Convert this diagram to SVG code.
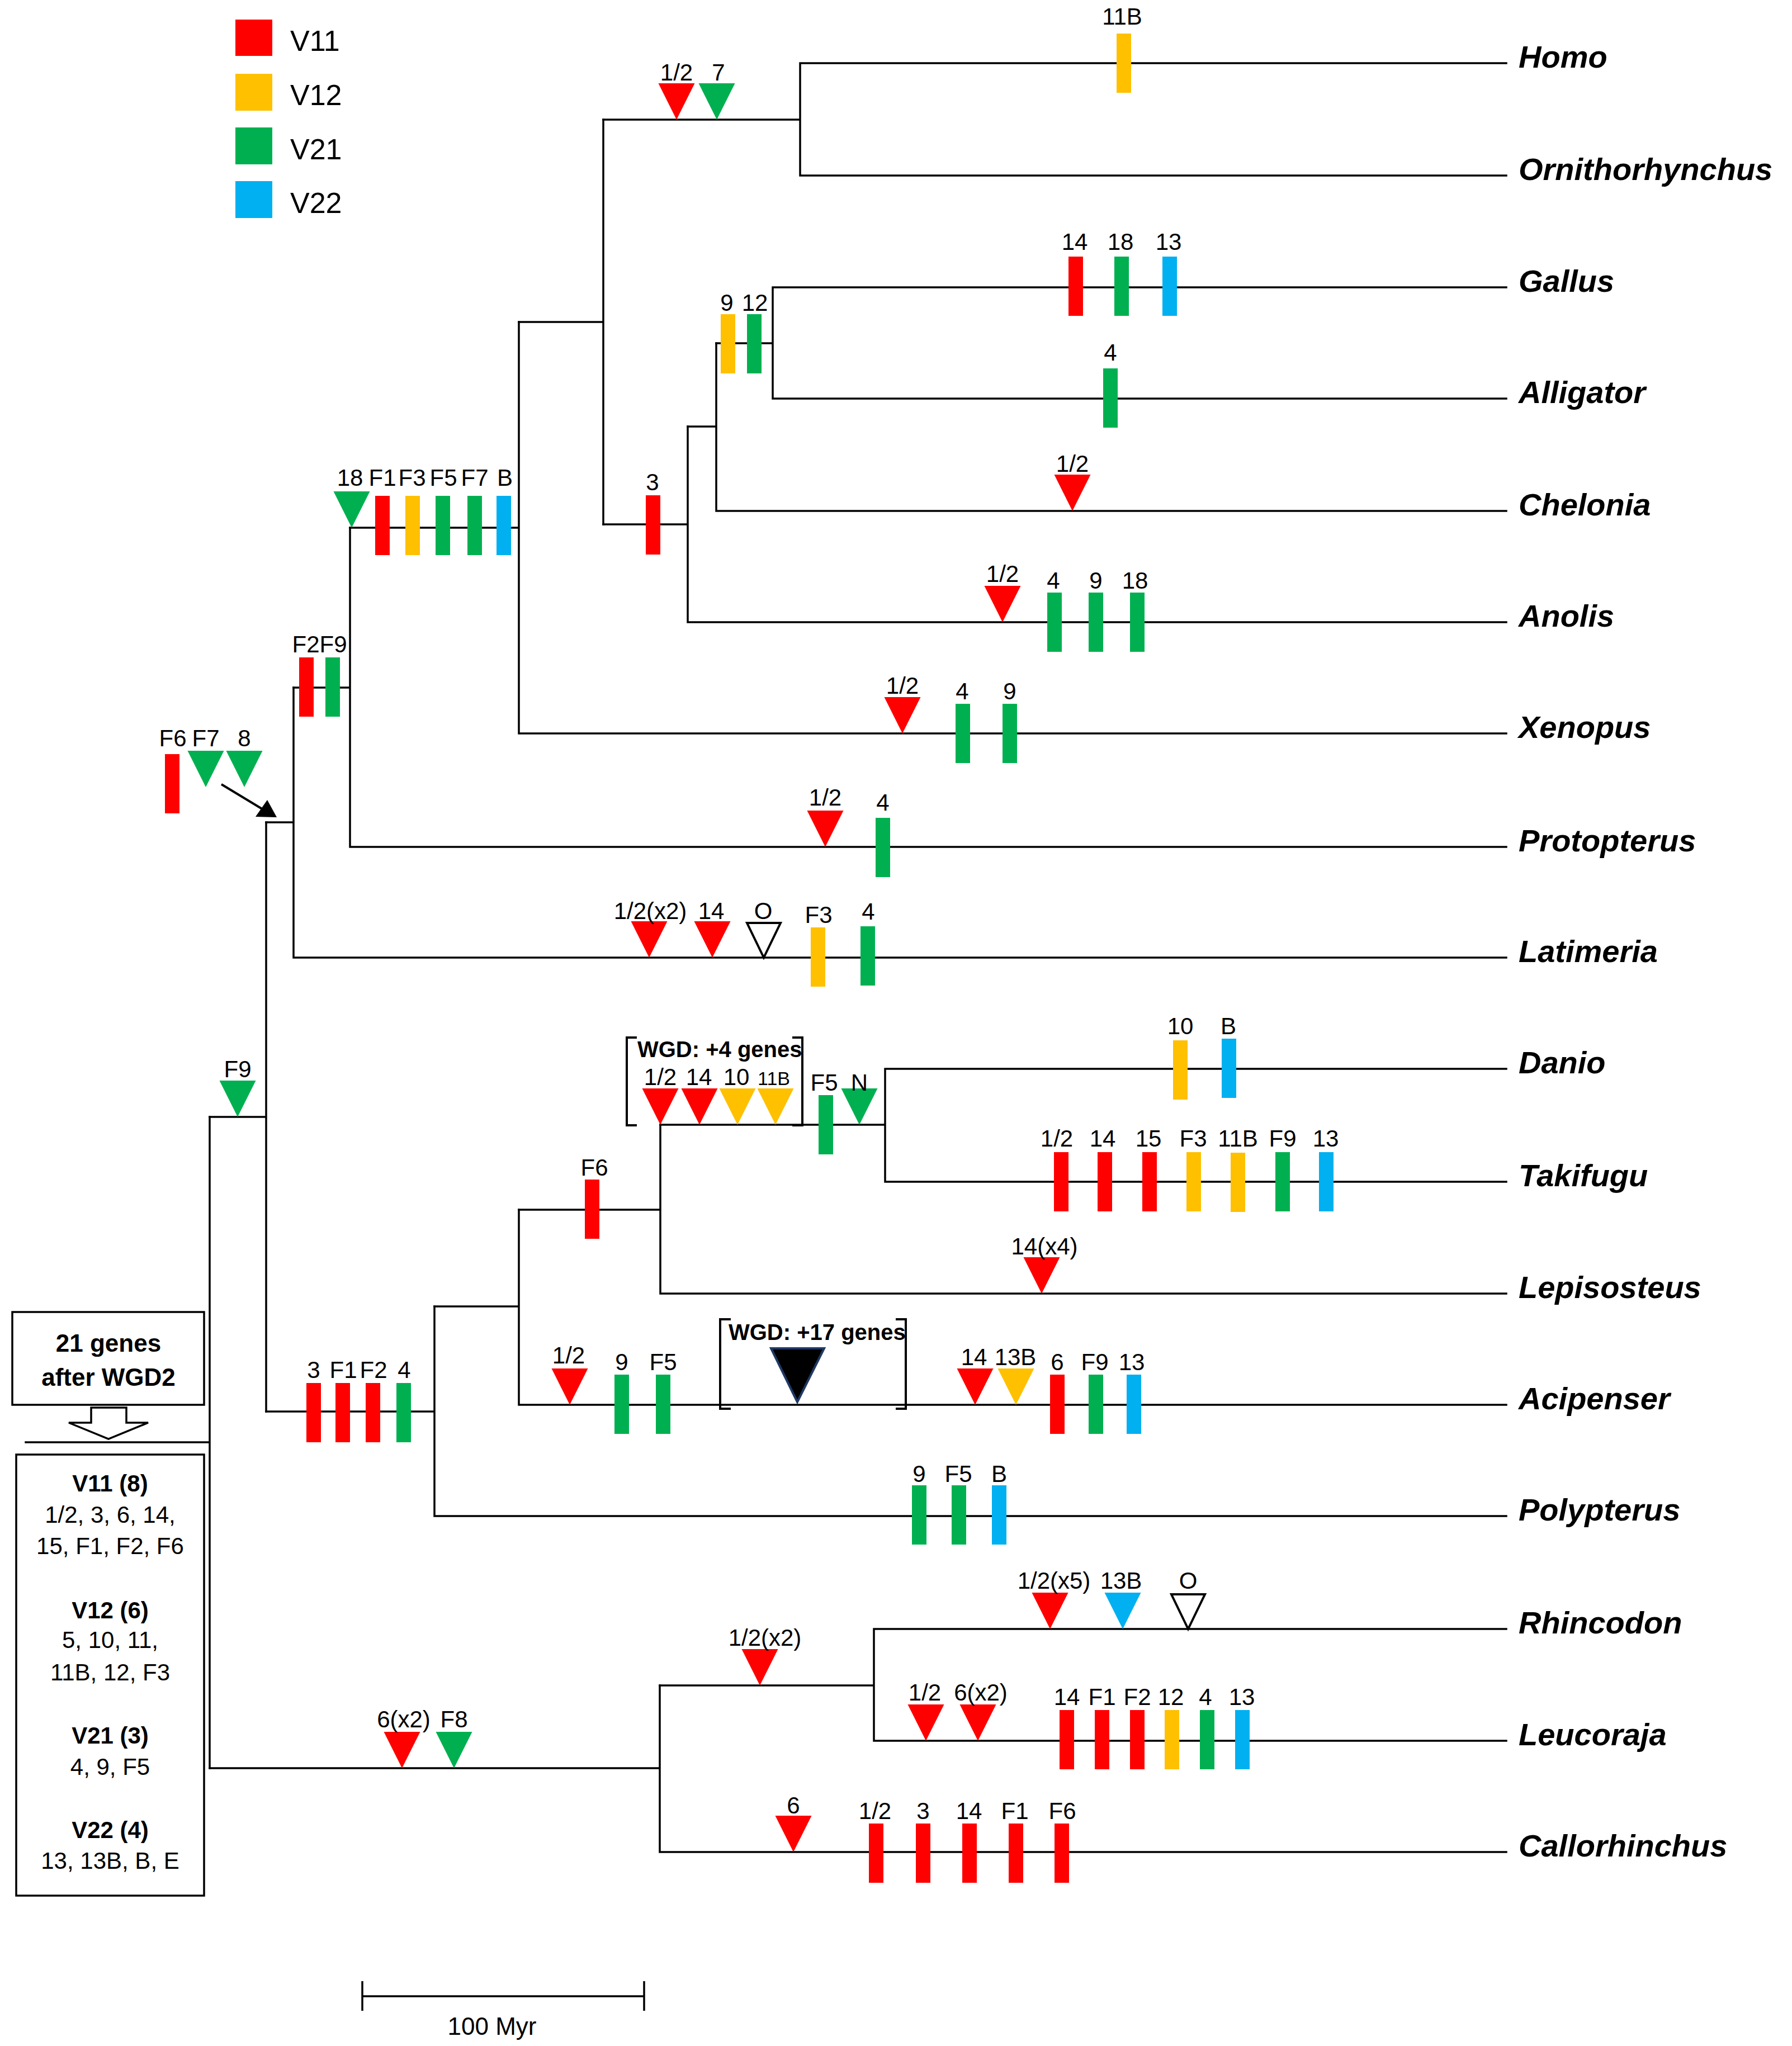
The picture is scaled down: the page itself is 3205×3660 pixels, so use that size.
<svg xmlns="http://www.w3.org/2000/svg" width="3205" height="3660" viewBox="0 0 3205 3660">
<style>
.r{fill:#FF0000}.y{fill:#FFC000}.g{fill:#00B050}.b{fill:#00B0F0}
.ln{stroke:#000;stroke-width:3.5;fill:none;stroke-linecap:square}
.lab{font-family:'Liberation Sans',Arial,sans-serif;font-size:42px;text-anchor:middle;fill:#000}
.sp{font-family:'Liberation Sans',Arial,sans-serif;font-size:56px;font-weight:bold;font-style:italic;fill:#000}
.leg{font-family:'Liberation Sans',Arial,sans-serif;font-size:52px;fill:#000}
.bx{font-family:'Liberation Sans',Arial,sans-serif;font-size:42px;text-anchor:middle;fill:#000}
.bb{font-weight:bold}
.wgd{font-family:'Liberation Sans',Arial,sans-serif;font-size:40px;font-weight:bold;fill:#000}
</style>
<defs>
<path id="tri" d="M-32.5,-65 H32.5 L0,0 Z"/>
<path id="htri" d="M-30,-62 H30 L0,0 Z" fill="#fff" stroke="#000" stroke-width="4" stroke-linejoin="miter"/>
<rect id="bar" x="-13" y="-53" width="26" height="106"/>
</defs>
<rect width="3205" height="3660" fill="#fff"/>

<g id="legend">
<rect x="421" y="35" width="66" height="65" class="r"/>
<rect x="421" y="132" width="66" height="66" class="y"/>
<rect x="421" y="228" width="66" height="66" class="g"/>
<rect x="421" y="324" width="66" height="66" class="b"/>
<text class="leg" x="519" y="91">V11</text>
<text class="leg" x="519" y="188">V12</text>
<text class="leg" x="519" y="285">V21</text>
<text class="leg" x="519" y="381">V22</text>
</g>

<g id="connectors" class="ln">
<path d="M1431,113 H2694 M1431,314 H2694 M1431,113 V314 M1079,214 H1431"/>
<path d="M1382,514 H2694 M1382,713 H2694 M1382,514 V713 M1281,614 H1382"/>
<path d="M1281,914 H2694 M1281,614 V914 M1230,763 H1281"/>
<path d="M1230,1113 H2694 M1230,763 V1113 M1079,938 H1230"/>
<path d="M1079,214 V938 M928,576 H1079"/>
<path d="M928,1312 H2694 M928,576 V1312 M626,944 H928"/>
<path d="M626,1515 H2694 M626,944 V1515 M525,1230 H626"/>
<path d="M525,1713 H2694 M525,1230 V1713 M476,1471 H525"/>
<path d="M1583,1912 H2694 M1583,2114 H2694 M1583,1912 V2114 M1181,2012 H1583"/>
<path d="M1181,2314 H2694 M1181,2012 V2314 M928,2164 H1181"/>
<path d="M928,2513 H2694 M928,2164 V2513 M777,2337 H928"/>
<path d="M777,2712 H2694 M777,2337 V2712 M476,2525 H777"/>
<path d="M476,1471 V2525 M375,1998 H476"/>
<path d="M1563,2914 H2694 M1563,3114 H2694 M1563,2914 V3114 M1180,3015 H1563"/>
<path d="M1180,3313 H2694 M1180,3015 V3313 M375,3163 H1180"/>
<path d="M375,1998 V3163 M46,2580 H375"/>
</g>

<g id="homo">
<use href="#bar" x="2010" y="113" class="y"/>
<text class="lab" x="2007" y="44">11B</text>
<text class="sp" x="2716" y="121">Homo</text>
</g>
<g id="ornithorhynchus"><text class="sp" x="2716" y="322">Ornithorhynchus</text></g>
<g id="mammalia">
<use href="#tri" x="1210" y="214" class="r"/>
<use href="#tri" x="1282" y="214" class="g"/>
<text class="lab" x="1210" y="144">1/2</text>
<text class="lab" x="1285" y="144">7</text>
</g>
<g id="gallus">
<use href="#bar" x="1924" y="512" class="r"/>
<use href="#bar" x="2006" y="512" class="g"/>
<use href="#bar" x="2092" y="512" class="b"/>
<text class="lab" x="1922" y="447">14</text>
<text class="lab" x="2004" y="447">18</text>
<text class="lab" x="2090" y="447">13</text>
<text class="sp" x="2716" y="522">Gallus</text>
</g>
<g id="alligator">
<use href="#bar" x="1986" y="712" class="g"/>
<text class="lab" x="1986" y="645">4</text>
<text class="sp" x="2716" y="721">Alligator</text>
</g>
<g id="archosauria">
<use href="#bar" x="1302" y="615" class="y"/>
<use href="#bar" x="1349" y="615" class="g"/>
<text class="lab" x="1300" y="556">9</text>
<text class="lab" x="1350" y="556">12</text>
</g>
<g id="chelonia">
<use href="#tri" x="1918" y="914" class="r"/>
<text class="lab" x="1918" y="844">1/2</text>
<text class="sp" x="2716" y="922">Chelonia</text>
</g>
<g id="sauropsida">
<use href="#bar" x="1168" y="939" class="r"/>
<text class="lab" x="1167" y="877">3</text>
</g>
<g id="anolis">
<use href="#tri" x="1793" y="1113" class="r"/>
<use href="#bar" x="1886" y="1113" class="g"/>
<use href="#bar" x="1960" y="1113" class="g"/>
<use href="#bar" x="2034" y="1113" class="g"/>
<text class="lab" x="1793" y="1041">1/2</text>
<text class="lab" x="1884" y="1053">4</text>
<text class="lab" x="1960" y="1053">9</text>
<text class="lab" x="2030" y="1053">18</text>
<text class="sp" x="2716" y="1121">Anolis</text>
</g>
<g id="xenopus">
<use href="#tri" x="1614" y="1312" class="r"/>
<use href="#bar" x="1722" y="1312" class="g"/>
<use href="#bar" x="1806" y="1312" class="g"/>
<text class="lab" x="1614" y="1241">1/2</text>
<text class="lab" x="1721" y="1251">4</text>
<text class="lab" x="1806" y="1251">9</text>
<text class="sp" x="2716" y="1320">Xenopus</text>
</g>
<g id="tetrapoda">
<use href="#tri" x="629" y="944" class="g"/>
<use href="#bar" x="684" y="940" class="r"/>
<use href="#bar" x="738" y="940" class="y"/>
<use href="#bar" x="792" y="940" class="g"/>
<use href="#bar" x="849" y="940" class="g"/>
<use href="#bar" x="901" y="940" class="b"/>
<text class="lab" x="626" y="869">18</text>
<text class="lab" x="684" y="869">F1</text>
<text class="lab" x="737" y="869">F3</text>
<text class="lab" x="793" y="869">F5</text>
<text class="lab" x="849" y="869">F7</text>
<text class="lab" x="903" y="869">B</text>
</g>
<g id="protopterus">
<use href="#tri" x="1476" y="1515" class="r"/>
<use href="#bar" x="1579" y="1516" class="g"/>
<text class="lab" x="1476" y="1441">1/2</text>
<text class="lab" x="1579" y="1450">4</text>
<text class="sp" x="2716" y="1523">Protopterus</text>
</g>
<g id="rhipidistia">
<use href="#bar" x="548" y="1229" class="r"/>
<use href="#bar" x="595" y="1229" class="g"/>
<text class="lab" x="547" y="1167">F2</text>
<text class="lab" x="596" y="1167">F9</text>
</g>
<g id="latimeria">
<use href="#tri" x="1161" y="1713" class="r"/>
<use href="#tri" x="1274" y="1713" class="r"/>
<use href="#htri" x="1366" y="1713"/>
<use href="#bar" x="1463" y="1712" class="y"/>
<use href="#bar" x="1552" y="1710" class="g"/>
<text class="lab" x="1163" y="1644">1/2(x2)</text>
<text class="lab" x="1272" y="1644">14</text>
<text class="lab" x="1365" y="1644">O</text>
<text class="lab" x="1464" y="1651">F3</text>
<text class="lab" x="1553" y="1645">4</text>
<text class="sp" x="2716" y="1721">Latimeria</text>
</g>
<g id="sarcopterygii-note">
<use href="#bar" x="308" y="1402" class="r"/>
<use href="#tri" x="368" y="1408" class="g"/>
<use href="#tri" x="437" y="1408" class="g"/>
<text class="lab" x="309" y="1335">F6</text>
<text class="lab" x="368" y="1335">F7</text>
<text class="lab" x="437" y="1335">8</text>
<line x1="396" y1="1403" x2="472" y2="1449" stroke="#000" stroke-width="4"/>
<polygon points="495,1462 457,1461 478,1431" fill="#000"/>
</g>
<g id="osteichthyes">
<use href="#tri" x="425" y="1998" class="g"/>
<text class="lab" x="425" y="1927">F9</text>
</g>
<g id="actinopterygii">
<use href="#bar" x="561" y="2527" class="r"/>
<use href="#bar" x="613" y="2527" class="r"/>
<use href="#bar" x="667" y="2527" class="r"/>
<use href="#bar" x="722" y="2527" class="g"/>
<text class="lab" x="561" y="2465">3</text>
<text class="lab" x="614" y="2465">F1</text>
<text class="lab" x="668" y="2465">F2</text>
<text class="lab" x="723" y="2465">4</text>
</g>
<g id="neopterygii">
<use href="#bar" x="1059" y="2163" class="r"/>
<text class="lab" x="1063" y="2103">F6</text>
</g>
<g id="teleostei">
<path d="M1139,1856 H1121 V2013 H1139 M1417,1856 H1435 V2013 H1417" fill="none" stroke="#000" stroke-width="4"/>
<text class="wgd" x="1140" y="1891">WGD: +4 genes</text>
<use href="#tri" x="1181" y="2012" class="r"/>
<use href="#tri" x="1251" y="2012" class="r"/>
<use href="#tri" x="1319" y="2012" class="y"/>
<use href="#tri" x="1387" y="2012" class="y"/>
<text class="lab" x="1181" y="1941">1/2</text>
<text class="lab" x="1250" y="1941">14</text>
<text class="lab" x="1317" y="1941">10</text>
<text class="lab" x="1384" y="1941" style="font-size:34px">11B</text>
<use href="#bar" x="1477" y="2012" class="g"/>
<use href="#tri" x="1537" y="2012" class="g"/>
<text class="lab" x="1474" y="1951">F5</text>
<text class="lab" x="1537" y="1951">N</text>
</g>
<g id="danio">
<use href="#bar" x="2111" y="1914" class="y"/>
<use href="#bar" x="2198" y="1911" class="b"/>
<text class="lab" x="2111" y="1850">10</text>
<text class="lab" x="2197" y="1850">B</text>
<text class="sp" x="2716" y="1920">Danio</text>
</g>
<g id="takifugu">
<use href="#bar" x="1898" y="2114" class="r"/>
<use href="#bar" x="1976" y="2114" class="r"/>
<use href="#bar" x="2056" y="2114" class="r"/>
<use href="#bar" x="2135" y="2114" class="y"/>
<use href="#bar" x="2214" y="2115" class="y"/>
<use href="#bar" x="2294" y="2114" class="g"/>
<use href="#bar" x="2372" y="2114" class="b"/>
<text class="lab" x="1890" y="2051">1/2</text>
<text class="lab" x="1972" y="2051">14</text>
<text class="lab" x="2054" y="2051">15</text>
<text class="lab" x="2134" y="2051">F3</text>
<text class="lab" x="2214" y="2051">11B</text>
<text class="lab" x="2294" y="2051">F9</text>
<text class="lab" x="2371" y="2051">13</text>
<text class="sp" x="2716" y="2122">Takifugu</text>
</g>
<g id="lepisosteus">
<use href="#tri" x="1863" y="2314" class="r"/>
<text class="lab" x="1868" y="2244">14(x4)</text>
<text class="sp" x="2716" y="2322">Lepisosteus</text>
</g>
<g id="acipenser">
<use href="#tri" x="1019" y="2513" class="r"/>
<use href="#bar" x="1112" y="2512" class="g"/>
<use href="#bar" x="1186" y="2512" class="g"/>
<text class="lab" x="1017" y="2439">1/2</text>
<text class="lab" x="1112" y="2451">9</text>
<text class="lab" x="1186" y="2451">F5</text>
<path d="M1307,2360 H1288 V2520 H1307 M1602,2360 H1620 V2520 H1602" fill="none" stroke="#000" stroke-width="4"/>
<text class="wgd" x="1303" y="2397">WGD: +17 genes</text>
<polygon points="1379,2412 1474,2412 1426,2508" fill="#000" stroke="#203864" stroke-width="4"/>
<use href="#tri" x="1744" y="2513" class="r"/>
<use href="#tri" x="1817" y="2513" class="y"/>
<text class="lab" x="1742" y="2442">14</text>
<text class="lab" x="1816" y="2442">13B</text>
<use href="#bar" x="1891" y="2512" class="r"/>
<use href="#bar" x="1960" y="2512" class="g"/>
<use href="#bar" x="2028" y="2512" class="b"/>
<text class="lab" x="1891" y="2451">6</text>
<text class="lab" x="1958" y="2451">F9</text>
<text class="lab" x="2024" y="2451">13</text>
<text class="sp" x="2716" y="2521">Acipenser</text>
</g>
<g id="polypterus">
<use href="#bar" x="1644" y="2710" class="g"/>
<use href="#bar" x="1715" y="2710" class="g"/>
<use href="#bar" x="1787" y="2710" class="b"/>
<text class="lab" x="1644" y="2651">9</text>
<text class="lab" x="1714" y="2651">F5</text>
<text class="lab" x="1787" y="2651">B</text>
<text class="sp" x="2716" y="2720">Polypterus</text>
</g>
<g id="chondrichthyes">
<use href="#tri" x="719" y="3163" class="r"/>
<use href="#tri" x="812" y="3163" class="g"/>
<text class="lab" x="722" y="3090">6(x2)</text>
<text class="lab" x="812" y="3090">F8</text>
</g>
<g id="elasmobranchii">
<use href="#tri" x="1359" y="3015" class="r"/>
<text class="lab" x="1368" y="2944">1/2(x2)</text>
</g>
<g id="rhincodon">
<use href="#tri" x="1878" y="2914" class="r"/>
<use href="#tri" x="2008" y="2914" class="b"/>
<use href="#htri" x="2125" y="2914"/>
<text class="lab" x="1885" y="2842">1/2(x5)</text>
<text class="lab" x="2005" y="2842">13B</text>
<text class="lab" x="2125" y="2842">O</text>
<text class="sp" x="2716" y="2922">Rhincodon</text>
</g>
<g id="leucoraja">
<use href="#tri" x="1656" y="3114" class="r"/>
<use href="#tri" x="1749" y="3114" class="r"/>
<text class="lab" x="1654" y="3042">1/2</text>
<text class="lab" x="1754" y="3042">6(x2)</text>
<use href="#bar" x="1908" y="3112" class="r"/>
<use href="#bar" x="1971" y="3112" class="r"/>
<use href="#bar" x="2034" y="3112" class="r"/>
<use href="#bar" x="2096" y="3112" class="y"/>
<use href="#bar" x="2159" y="3112" class="g"/>
<use href="#bar" x="2222" y="3112" class="b"/>
<text class="lab" x="1908" y="3050">14</text>
<text class="lab" x="1971" y="3050">F1</text>
<text class="lab" x="2034" y="3050">F2</text>
<text class="lab" x="2094" y="3050">12</text>
<text class="lab" x="2156" y="3050">4</text>
<text class="lab" x="2221" y="3050">13</text>
<text class="sp" x="2716" y="3122">Leucoraja</text>
</g>
<g id="callorhinchus">
<use href="#tri" x="1419" y="3313" class="r"/>
<text class="lab" x="1419" y="3244">6</text>
<use href="#bar" x="1567" y="3315" class="r"/>
<use href="#bar" x="1651" y="3315" class="r"/>
<use href="#bar" x="1734" y="3315" class="r"/>
<use href="#bar" x="1817" y="3315" class="r"/>
<use href="#bar" x="1899" y="3315" class="r"/>
<text class="lab" x="1565" y="3254">1/2</text>
<text class="lab" x="1651" y="3254">3</text>
<text class="lab" x="1733" y="3254">14</text>
<text class="lab" x="1815" y="3254">F1</text>
<text class="lab" x="1900" y="3254">F6</text>
<text class="sp" x="2716" y="3321">Callorhinchus</text>
</g>

<g id="wgd2-box">
<rect x="22" y="2347" width="343" height="166" fill="#fff" stroke="#000" stroke-width="3.5"/>
<text class="bx bb" x="194" y="2418" style="font-size:44px">21 genes</text>
<text class="bx bb" x="194" y="2479" style="font-size:44px">after WGD2</text>
<polygon points="163,2518 226,2518 226,2545 265,2545 194,2574 123,2545 163,2545" fill="#fff" stroke="#000" stroke-width="3.5" stroke-linejoin="miter"/>
</g>
<g id="gene-list-box">
<rect x="29" y="2602" width="336" height="789" fill="#fff" stroke="#000" stroke-width="3.5"/>
<text class="bx bb" x="197" y="2668">V11 (8)</text>
<text class="bx" x="197" y="2724">1/2, 3, 6, 14,</text>
<text class="bx" x="197" y="2780">15, F1, F2, F6</text>
<text class="bx bb" x="197" y="2895">V12 (6)</text>
<text class="bx" x="197" y="2948">5, 10, 11,</text>
<text class="bx" x="197" y="3006">11B, 12, F3</text>
<text class="bx bb" x="197" y="3119">V21 (3)</text>
<text class="bx" x="197" y="3175">4, 9, F5</text>
<text class="bx bb" x="197" y="3288">V22 (4)</text>
<text class="bx" x="197" y="3343">13, 13B, B, E</text>
</g>
<g id="scale-bar">
<path d="M648,3571 H1152 M648,3544 V3597 M1152,3544 V3597" fill="none" stroke="#000" stroke-width="3.5"/>
<text class="lab" x="880" y="3640" style="font-size:44px">100 Myr</text>
</g>
</svg>
